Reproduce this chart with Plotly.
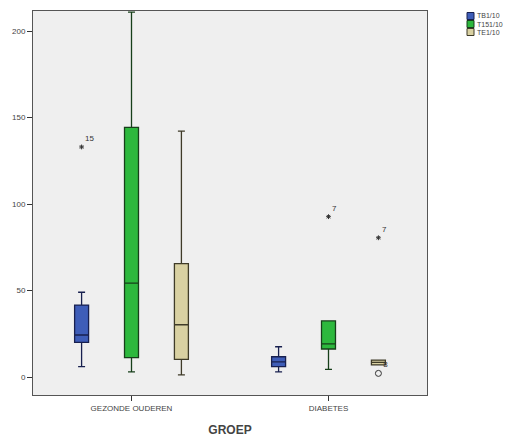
import plotly.graph_objects as go

categories = ["GEZONDE OUDEREN", "DIABETES"]
series_names = ["TB1/10", "T151/10", "TE1/10"]

# precomputed box statistics per series, one value per category
lowerfence = {"TB1/10": [6, 3], "T151/10": [3, 4.4], "TE1/10": [1.2, 7]}
q1 = {"TB1/10": [20, 6], "T151/10": [11.2, 16.2], "TE1/10": [10.2, 7]}
median = {"TB1/10": [24.3, 8.8], "T151/10": [54.3, 19.1], "TE1/10": [30.2, 8.5]}
q3 = {"TB1/10": [41.6, 11.7], "T151/10": [144.3, 32.4], "TE1/10": [65.5, 9.8]}
upperfence = {"TB1/10": [49, 17.5], "T151/10": [211, 32.4], "TE1/10": [142.2, 9.8]}

# outliers: series, category index, value, case label, kind
out_series = ["TB1/10", "T151/10", "TE1/10", "TE1/10"]
out_cat = [0, 1, 1, 1]
out_value = [133, 92.7, 80.5, 2.1]
out_label = ["15", "7", "7", "8"]
out_kind = ["extreme", "extreme", "extreme", "outlier"]

fill = {"TB1/10": "#3E5DB8", "T151/10": "#2DB83D", "TE1/10": "#D9D1A2"}
edge = {"TB1/10": "#18204F", "T151/10": "#173F1A", "TE1/10": "#3F3B28"}

BOXGAP = 0.24
slot = (1 - BOXGAP) / len(series_names)

# figure geometry (page has an 8px body margin)
FIG_W, FIG_H = 510, 429
M_L, M_R, M_T, M_B = 25, 91, 3, 42
PW = FIG_W - M_L - M_R
PH = FIG_H - M_T - M_B

fig = go.Figure()
for s in series_names:
    fig.add_trace(go.Box(
        name=s, x=categories,
        q1=q1[s], median=median[s], q3=q3[s],
        lowerfence=lowerfence[s], upperfence=upperfence[s],
        fillcolor=fill[s], line=dict(color=edge[s], width=1.3),
        whiskerwidth=0.5, boxpoints=False, offsetgroup=s,
        showlegend=False,
    ))

for s, c, v, lab, k in zip(out_series, out_cat, out_value, out_label, out_kind):
    i = series_names.index(s)
    xpos = c + (i - (len(series_names) - 1) / 2) * slot
    fig.add_trace(go.Scatter(
        x=[xpos], y=[v], xaxis="x2", mode="markers+text", text=[lab],
        textposition="top right",
        textfont=dict(family="Liberation Sans", size=8, color="#333"),
        marker=dict(symbol="asterisk-open" if k == "extreme" else "circle-open",
                    size=4 if k == "extreme" else 6,
                    line=dict(width=1, color="#333"), color="#333"),
        showlegend=False, hoverinfo="skip", cliponaxis=False,
    ))

# compact legend (swatch + label), placed in page pixels
leg_x0, leg_sw, leg_y0, leg_pitch = 467, 7, 16, 8
for i, s in enumerate(series_names):
    cy = leg_y0 + i * leg_pitch
    x0 = (leg_x0 - 8 - M_L) / PW
    x1 = (leg_x0 + leg_sw - 8 - M_L) / PW
    y0 = (PH + M_T + 8 - cy - leg_sw / 2) / PH
    y1 = (PH + M_T + 8 - cy + leg_sw / 2) / PH
    fig.add_shape(type="rect", xref="paper", yref="paper", x0=x0, x1=x1, y0=y0, y1=y1,
                  fillcolor=fill[s], line=dict(color=edge[s], width=1))
    fig.add_annotation(xref="paper", yref="paper", x=(leg_x0 + leg_sw + 1 - 8 - M_L) / PW,
                       y=(y0 + y1) / 2, text=s, showarrow=False, xanchor="left",
                       yanchor="middle", font=dict(size=7, color="#444"))

fig.update_layout(
    width=FIG_W, height=FIG_H,
    margin=dict(l=M_L, r=M_R, t=M_T, b=M_B),
    paper_bgcolor="white", plot_bgcolor="#EFEFEF",
    boxmode="group", boxgap=BOXGAP, boxgroupgap=0.72,
    font=dict(family="Liberation Sans", size=8, color="#444"),
    showlegend=False,
    xaxis=dict(
        type="category", categoryorder="array", categoryarray=categories,
        range=[-0.5, 1.5], automargin=False,
        showline=True, linecolor="#555", linewidth=1, mirror=True,
        ticks="outside", ticklen=5, tickcolor="#333",
        tickfont=dict(size=8, color="#444"),
        title=dict(text="<b>GROEP</b>", font=dict(size=12, color="#444"), standoff=15),
        showgrid=False,
    ),
    xaxis2=dict(overlaying="x", range=[-0.5, 1.5], visible=False),
    yaxis=dict(
        range=[-10.4, 211.6], tickvals=[0, 50, 100, 150, 200], automargin=False,
        showline=True, linecolor="#555", linewidth=1, mirror=True,
        ticks="outside", ticklen=5, tickcolor="#333",
        tickfont=dict(size=8, color="#444"),
        showgrid=False, zeroline=False,
    ),
)

fig.write_html("out.html")
